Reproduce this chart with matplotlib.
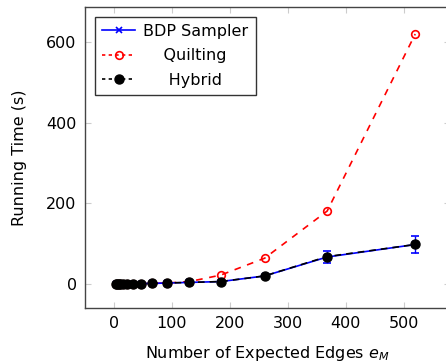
import matplotlib
matplotlib.use("Agg")
import matplotlib.pyplot as plt
from matplotlib.lines import Line2D

# expected edges e_M
edges = [4, 6, 8, 11, 16, 23, 32, 46, 65, 92, 130, 184, 260, 368, 520]
bdp_time = [0.1, 0.1, 0.2, 0.2, 0.3, 0.4, 0.6, 1.0, 1.5, 2.5, 4, 6, 20, 67, 98]
bdp_err = [0, 0, 0, 0, 0, 0, 0, 0, 0, 0.5, 0.8, 1.2, 3, 15, 21]
quilt_time = [0.1, 0.1, 0.1, 0.2, 0.2, 0.3, 0.5, 0.8, 1.5, 2.5, 6, 22, 64, 181, 620]
hybrid_time = [0.1, 0.1, 0.2, 0.2, 0.3, 0.4, 0.6, 1.0, 1.5, 2.5, 4, 6, 20, 68, 98]

plt.rcParams['font.family'] = ['DejaVu Sans']
plt.rcParams['mathtext.fontset'] = 'dejavusans'
fs = 11.5

fig = plt.figure(figsize=(4.46, 3.62), dpi=100)
ax = fig.add_axes([85/446, 1 - 308/362, 365/446, 301/362])

ax.errorbar(edges, bdp_time, yerr=bdp_err, color='blue', lw=1.2, marker='x',
            ms=4, mew=1.2, capsize=3, elinewidth=1, zorder=3)
ax.plot(edges, quilt_time, color='red', ls=(0, (4, 4)), lw=1.2, marker='o', ms=5.5,
        mfc='none', mec='red', mew=1.2, zorder=2)
ax.plot(edges, hybrid_time, color='black', ls=(0, (4, 3)), lw=1.2, marker='o', ms=6.5,
        zorder=4)

ax.set_xlim(-50, 580)
ax.set_ylim(-59.5, 687)
ax.set_xticks([0, 100, 200, 300, 400, 500])
ax.set_yticks([0, 200, 400, 600])
ax.tick_params(direction='in', length=4, color='#cccccc', labelsize=fs,
               top=True, right=True, pad=6)
for s in ax.spines.values():
    s.set_color('#444444')
    s.set_linewidth(1.0)

ax.set_xlabel('Number of Expected Edges $e_M$', fontsize=fs, labelpad=9)
ax.set_ylabel('Running Time (s)', fontsize=fs, labelpad=14)

handles = [
    Line2D([], [], color='blue', lw=1.2, marker='x', ms=4, mew=1.2),
    Line2D([], [], color='red', ls=(0, (2, 2)), lw=1.2, marker='o', ms=5.5,
           mfc='none', mec='red', mew=1.2),
    Line2D([], [], color='black', ls=(0, (2, 2)), lw=1.2, marker='o', ms=6.5),
]
labels = ['BDP Sampler', '    Quilting', '     Hybrid']
leg = ax.legend(handles, labels, loc='upper left', fontsize=fs, frameon=True,
                fancybox=False, edgecolor='black', handlelength=2.1, borderpad=0.45,
                labelspacing=0.6, handletextpad=0.5, borderaxespad=0.6)
leg.get_frame().set_linewidth(1.0)

fig.savefig('out.png', dpi=100)
